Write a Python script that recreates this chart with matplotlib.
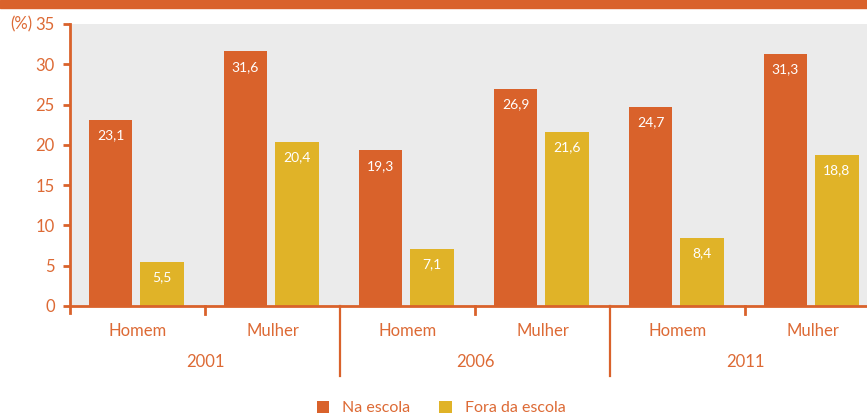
import matplotlib
matplotlib.use("Agg")
import matplotlib.pyplot as plt
from matplotlib.patches import Rectangle
import numpy as np

plt.rcParams['font.family'] = ['Lato', 'DejaVu Sans']

years = ["2001", "2006", "2011"]
sexes = ["Homem", "Mulher"]
na_escola = [23.1, 31.6, 19.3, 26.9, 24.7, 31.3]
fora_escola = [5.5, 20.4, 7.1, 21.6, 8.4, 18.8]
series_names = ["Na escola", "Fora da escola"]

ORANGE = "#D9622B"
YELLOW = "#E0B328"
TXT = "#DD6A35"
BG = "#EBEBEB"

W, H = 867, 417
fig = plt.figure(figsize=(W / 100, H / 100), dpi=100)

# top band
fig.patches.append(Rectangle((0, 1 - 8 / H), 1, 8 / H, transform=fig.transFigure,
                             color=ORANGE, zorder=0))

left, right, top, bottom = 70, 867, 24, 306
ax = fig.add_axes([left / W, 1 - bottom / H, (right - left) / W, (bottom - top) / H])
ax.set_facecolor(BG)

n = len(na_escola)
x = np.arange(n) + 0.5
bw = 0.325
off = 0.19
b1 = ax.bar(x - off - 0.01, na_escola, bw, color=ORANGE, label=series_names[0], zorder=2)
b2 = ax.bar(x + off - 0.01, fora_escola, bw, color=YELLOW, label=series_names[1], zorder=2)

for bars, vals in ((b1, na_escola), (b2, fora_escola)):
    for b, v in zip(bars, vals):
        ax.text(b.get_x() + b.get_width() / 2, v - 1.9, f"{v:.1f}".replace(".", ","),
                ha="center", va="center", color="white", fontsize=10, zorder=3)

ax.set_xlim(0, (right - left) / 135)
ax.set_ylim(0, 35)
ax.set_yticks(range(0, 36, 5))
ax.tick_params(axis="y", colors=ORANGE, labelcolor=TXT, labelsize=12, length=5, width=2, pad=6)
for s in ("top", "right"):
    ax.spines[s].set_visible(False)
ax.spines["left"].set_color(ORANGE)
ax.spines["left"].set_linewidth(2)
ax.spines["bottom"].set_color(ORANGE)
ax.spines["bottom"].set_linewidth(2)
ax.spines["left"].set_bounds(-0.9, 35)

# category labels below
ax.set_xticks(x)
ax.set_xticklabels(sexes * len(years))
ax.tick_params(axis="x", length=0, labelcolor=TXT, labelsize=12, pad=12)

trans = ax.get_xaxis_transform()
for i in range(1, n + 1):
    long = i in (2, 4)
    ax.plot([i, i], [0, -70 / 282 if long else -8 / 282], transform=trans,
            color=ORANGE, lw=1.6 if long else 2, clip_on=False, zorder=4)

for k, yr in enumerate(years):
    ax.text(2 * k + 1, -56 / 282, yr, transform=trans, ha="center", va="center",
            color=TXT, fontsize=12)

ax.text(-0.28, 35, "(%)", transform=ax.transData, ha="right", va="center",
        color=TXT, fontsize=12)

leg = fig.legend(handles=[b1, b2], loc="center", bbox_to_anchor=(441 / W, 1 - 408 / H),
                 ncol=2, frameon=False, fontsize=11.5, handlelength=0.8, handleheight=0.8,
                 handletextpad=0.8, columnspacing=1.8, borderpad=0)
for t in leg.get_texts():
    t.set_color(TXT)

fig.savefig("out.png", dpi=100)
